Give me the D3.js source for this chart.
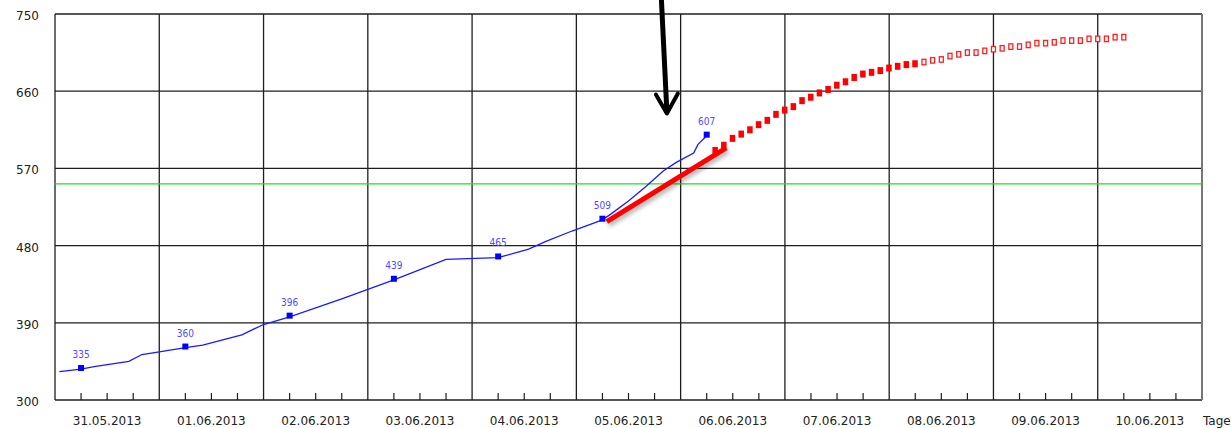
<!DOCTYPE html>
<html>
<head>
<meta charset="utf-8">
<script src="https://cdn.jsdelivr.net/npm/d3@7"></script>
<style>
  body { margin: 0; background: #fff; }
  svg { display: block; font-family: 'DejaVu Sans', Verdana, sans-serif; }
</style>
</head>
<body>
<svg id="chart" width="1231" height="428"></svg>
<script>
const parse = d3.timeParse('%d.%m.%Y %H:%M')

// measured level (hourly readings, thinned)
const levelTimes = [
  '31.05.2013 01:00', '31.05.2013 06:00', '31.05.2013 09:00', '31.05.2013 17:00',
  '31.05.2013 20:00', '01.06.2013 00:00', '01.06.2013 06:00', '01.06.2013 10:00',
  '01.06.2013 19:00', '02.06.2013 00:00', '02.06.2013 06:00', '02.06.2013 18:00',
  '03.06.2013 06:00', '03.06.2013 18:00', '04.06.2013 06:00', '04.06.2013 11:00',
  '04.06.2013 13:00', '04.06.2013 17:00', '04.06.2013 23:00', '05.06.2013 06:00',
  '05.06.2013 08:00', '05.06.2013 12:00', '05.06.2013 16:00', '05.06.2013 20:00',
  '05.06.2013 23:00', '06.06.2013 03:00', '06.06.2013 04:00', '06.06.2013 06:00'
]
const levelValues = [
  333, 336, 339, 345, 353, 356, 361, 364, 376, 388, 397, 418, 440, 464,
  466, 473, 476, 485, 497, 510, 517, 532, 549, 567, 577, 588, 598, 608
]

// daily 06:00 readings with labels
const dailyTimes = [
  '31.05.2013 06:00', '01.06.2013 06:00', '02.06.2013 06:00', '03.06.2013 06:00',
  '04.06.2013 06:00', '05.06.2013 06:00', '06.06.2013 06:00'
]
const dailyValues = [335, 360, 396, 439, 465, 509, 607]

// forecast, every 2 hours
const forecastStart = '06.06.2013 08:00'
const forecastFilled = [
  591, 597, 605, 610, 615, 621, 626, 633, 638, 642, 649, 653,
  658, 662, 667, 671, 676, 680, 682, 684, 687, 689, 691, 692
]
const forecastOpen = [
  694, 696, 697, 701, 703, 705, 705, 707, 709, 710, 712, 712,
  714, 716, 716, 717, 719, 719, 719, 721, 721, 721, 723, 723
]

const threshold = 552

const trendStart = { time: '05.06.2013 07:00', value: 508 }
const trendEnd = { time: '06.06.2013 10:30', value: 594 }

const arrowTop = { time: '05.06.2013 19:35', value: 766 }
const arrowTip = { time: '05.06.2013 20:50', value: 634 }

const yTicks = [300, 390, 480, 570, 660, 750]
const xStart = '31.05.2013 00:00'
const xEnd = '11.06.2013 00:00'
const fmtDay = d3.timeFormat('%d.%m.%Y')

const margin = { left: 55, right: 1202, top: 14, bottom: 400 }

const svg = d3.select('#chart')

const x = d3.scaleTime()
  .domain([parse(xStart), parse(xEnd)])
  .range([margin.left, margin.right])

const y = d3.scaleLinear()
  .domain([300, 750])
  .range([margin.bottom, margin.top])

const defs = svg.append('defs')
defs.append('filter')
  .attr('id', 'shadow')
  .attr('x', '-20%').attr('y', '-50%')
  .attr('width', '140%').attr('height', '200%')
  .append('feDropShadow')
  .attr('dx', 2).attr('dy', 3)
  .attr('stdDeviation', 2)
  .attr('flood-color', '#000')
  .attr('flood-opacity', 0.3)

// grid
const days = d3.timeDay.range(parse(xStart), parse(xEnd))
const grid = svg.append('g').attr('stroke', '#1e1e1e').attr('stroke-width', 1.3)

grid.selectAll('.hgrid')
  .data(yTicks)
  .join('line')
  .attr('x1', margin.left).attr('x2', margin.right)
  .attr('y1', d => y(d)).attr('y2', d => y(d))

grid.selectAll('.vgrid')
  .data(days)
  .join('line')
  .attr('x1', d => x(d)).attr('x2', d => x(d))
  .attr('y1', margin.top).attr('y2', margin.bottom)

svg.append('line')
  .attr('x1', x(parse(xEnd))).attr('x2', x(parse(xEnd)))
  .attr('y1', margin.top).attr('y2', margin.bottom)
  .attr('stroke', '#777').attr('stroke-width', 2)

// minor ticks every 6h
const minor = d3.timeHour.every(6).range(parse(xStart), parse(xEnd))
  .filter(d => d.getHours() !== 0)
svg.append('g').selectAll('line')
  .data(minor)
  .join('line')
  .attr('x1', d => x(d)).attr('x2', d => x(d))
  .attr('y1', margin.bottom - 7).attr('y2', margin.bottom)
  .attr('stroke', '#1e1e1e').attr('stroke-width', 1.2)

// axis labels
svg.append('g').selectAll('text')
  .data(yTicks)
  .join('text')
  .attr('x', 39)
  .attr('y', d => y(d) + 6)
  .attr('text-anchor', 'end')
  .attr('font-size', 12)
  .attr('fill', '#222')
  .text(d => d)

svg.append('g').selectAll('text')
  .data(days)
  .join('text')
  .attr('x', d => x(d3.timeHour.offset(d, 12)))
  .attr('y', 425)
  .attr('text-anchor', 'middle')
  .attr('font-size', 12)
  .attr('fill', '#222')
  .text(d => fmtDay(d))

svg.append('text')
  .attr('x', 1203)
  .attr('y', 425)
  .attr('font-size', 12)
  .attr('fill', '#222')
  .text('Tage')

// threshold
svg.append('line')
  .attr('x1', margin.left).attr('x2', margin.right)
  .attr('y1', y(threshold)).attr('y2', y(threshold))
  .attr('stroke', '#22dd22').attr('stroke-width', 1.4)

// measured line
const level = levelTimes.map((t, i) => ({ t: parse(t), v: levelValues[i] }))
const line = d3.line().x(d => x(d.t)).y(d => y(d.v))
svg.append('path')
  .datum(level)
  .attr('d', line)
  .attr('fill', 'none')
  .attr('stroke', '#1a1aff')
  .attr('stroke-width', 1.3)

// markers drawn 2px high, as in the original plotter
const daily = dailyTimes.map((t, i) => ({ t: parse(t), v: dailyValues[i] }))
svg.append('g').selectAll('rect')
  .data(daily)
  .join('rect')
  .attr('x', d => x(d.t) - 3)
  .attr('y', d => y(d.v) - 5)
  .attr('width', 6).attr('height', 6)
  .attr('fill', '#0000ff')

svg.append('g').selectAll('text')
  .data(daily)
  .join('text')
  .attr('x', d => x(d.t))
  .attr('y', d => y(d.v) - 12)
  .attr('text-anchor', 'middle')
  .attr('font-family', "'DejaVu Sans Condensed', 'DejaVu Sans', sans-serif")
  .attr('font-size', 10)
  .attr('fill', '#4d4dff')
  .text(d => d.v)

// trend line
svg.append('line')
  .attr('x1', x(parse(trendStart.time))).attr('y1', y(trendStart.value))
  .attr('x2', x(parse(trendEnd.time))).attr('y2', y(trendEnd.value))
  .attr('stroke', '#ff0000')
  .attr('stroke-width', 5)
  .attr('filter', 'url(#shadow)')

// forecast squares
const t0 = parse(forecastStart)
const filled = forecastFilled.map((v, i) => ({ t: d3.timeHour.offset(t0, i * 2), v }))
const open = forecastOpen.map((v, i) => ({ t: d3.timeHour.offset(t0, (forecastFilled.length + i) * 2), v }))

svg.append('g').selectAll('rect')
  .data(filled)
  .join('rect')
  .attr('x', d => x(d.t) - 3)
  .attr('y', d => y(d.v) - 3.5)
  .attr('width', 5.5).attr('height', 7)
  .attr('fill', '#ff0000')

svg.append('g').selectAll('rect')
  .data(open)
  .join('rect')
  .attr('x', d => x(d.t) - 2)
  .attr('y', d => y(d.v) - 2.75)
  .attr('width', 4).attr('height', 5.5)
  .attr('fill', '#fff')
  .attr('stroke', '#ff2020')
  .attr('stroke-width', 1.3)

// arrow annotation
const ax0 = x(parse(arrowTop.time)), ay0 = y(arrowTop.value)
const ax1 = x(parse(arrowTip.time)), ay1 = y(arrowTip.value)
const arrow = svg.append('g')
  .attr('stroke', '#000')
  .attr('fill', 'none')
  .attr('stroke-linecap', 'round')
arrow.append('line')
  .attr('x1', ax0).attr('y1', ay0)
  .attr('x2', ax1).attr('y2', ay1 - 2)
  .attr('stroke-width', 5)
arrow.append('path')
  .attr('d', `M${ax1 - 11},${ay1 - 19} L${ax1},${ay1} L${ax1 + 11},${ay1 - 20}`)
  .attr('stroke-width', 4)
  .attr('stroke-linejoin', 'round')
</script>
</body>
</html>
